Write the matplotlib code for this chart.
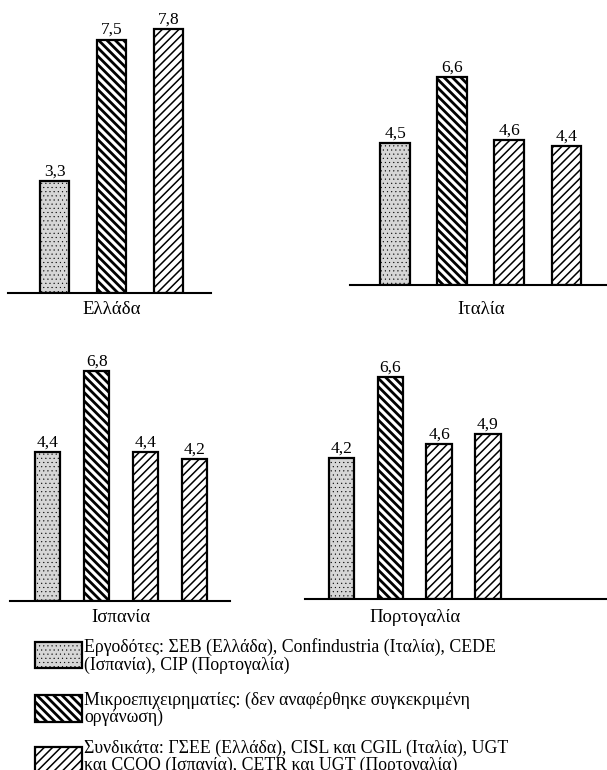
import matplotlib
matplotlib.use("Agg")
import matplotlib.pyplot as plt
import matplotlib.transforms as mtransforms
from matplotlib.patches import Rectangle

plt.rcParams['font.family'] = ['Liberation Serif', 'DejaVu Serif']

# ====== Data ======
countries = ['Ελλάδα', 'Ιταλία', 'Ισπανία', 'Πορτογαλία']
employers = [3.3, 4.5, 4.4, 4.2]
micro = [7.5, 6.6, 6.8, 6.6]
unions = [[7.8], [4.6, 4.4], [4.4, 4.2], [4.6, 4.9]]

legend_texts = [
    "Εργοδότες: ΣΕΒ (Ελλάδα), Confindustria (Ιταλία), CEDE\n(Ισπανία), CIP (Πορτογαλία)",
    "Μικροεπιχειρηματίες: (δεν αναφέρθηκε συγκεκριμένη\nοργάνωση)",
    "Συνδικάτα: ΓΣΕΕ (Ελλάδα), CISL και CGIL (Ιταλία), UGT\nκαι CCOO (Ισπανία), CETR και UGT (Πορτογαλία)",
]

# ====== Layout (pixels) ======
W, H = 607, 770
# x0, x1, baseline y, px per unit, xlim, ymax, label y
panels = [
    (8, 211, 293, 33.8, (-0.82, 2.75), 8.5, 309),
    (350, 607, 285, 31.5, (-0.79, 3.71), 8.5, 309),
    (10, 230, 601, 33.8, (-0.77, 3.72), 8.0, 618),
    (305, 607, 599, 33.6, (-0.75, 5.44), 8.0, 618),
]
bar_w = 0.52

fig = plt.figure(figsize=(W / 100, H / 100), dpi=100)


def style_patch(p, kind):
    if kind == 'emp':
        p.set_facecolor('#d6d6d6')
        p.set_hatch('....')
        p.set_edgecolor('black')
        lw = 0.3
    elif kind == 'micro':
        p.set_facecolor('white')
        p.set_hatch('\\' * 4)
        p.set_edgecolor('black')
        lw = 2.0
    else:
        p.set_facecolor('white')
        p.set_hatch('/' * 4)
        p.set_edgecolor('black')
        lw = 1.1
    if hasattr(p, 'set_hatch_linewidth'):
        p.set_hatch_linewidth(lw)
    p.set_linewidth(1.6)


def fmt(v):
    return f"{v:.1f}".replace('.', ',')


for i, (x0, x1, yb, sc, xl, ymax, ly) in enumerate(panels):
    ax = fig.add_axes([x0 / W, 1 - yb / H, (x1 - x0) / W, ymax * sc / H])
    ax.set_xlim(*xl)
    ax.set_ylim(0, ymax)
    for s in ['top', 'right', 'left']:
        ax.spines[s].set_visible(False)
    ax.spines['bottom'].set_linewidth(1.5)
    ax.set_xticks([])
    ax.set_yticks([])
    ax.patch.set_alpha(0)

    vals = [employers[i], micro[i]] + unions[i]
    kinds = ['emp', 'micro'] + ['union'] * len(unions[i])
    xs = list(range(len(vals)))
    bars = ax.bar(xs, vals, width=bar_w, zorder=2)
    for b, k in zip(bars, kinds):
        style_patch(b, k)
    for x, v in zip(xs, vals):
        ax.annotate(fmt(v), (x, v), xytext=(0, 1), textcoords='offset points',
                    ha='center', va='bottom', fontsize=12.5)

    tr = mtransforms.blended_transform_factory(ax.transData, fig.transFigure)
    ax.text((len(vals) - 1) / 2, 1 - ly / H, countries[i], transform=tr,
            ha='center', va='center', fontsize=13.5)

# ====== Legend ======
lax = fig.add_axes([0, 0, 1, 1])
lax.set_xlim(0, W)
lax.set_ylim(H, 0)
lax.axis('off')
lax.patch.set_alpha(0)

sw = [(642, 668, 656), (695, 722, 709), (747, 773, 757)]
for (ya, yz, yc), k, t in zip(sw, ['emp', 'micro', 'union'], legend_texts):
    r = Rectangle((35, ya), 47, yz - ya)
    style_patch(r, k)
    lax.add_patch(r)
    lax.text(84, yc, t, ha='left', va='center', fontsize=12.8, linespacing=1.0)

fig.savefig('out.png', dpi=100)
